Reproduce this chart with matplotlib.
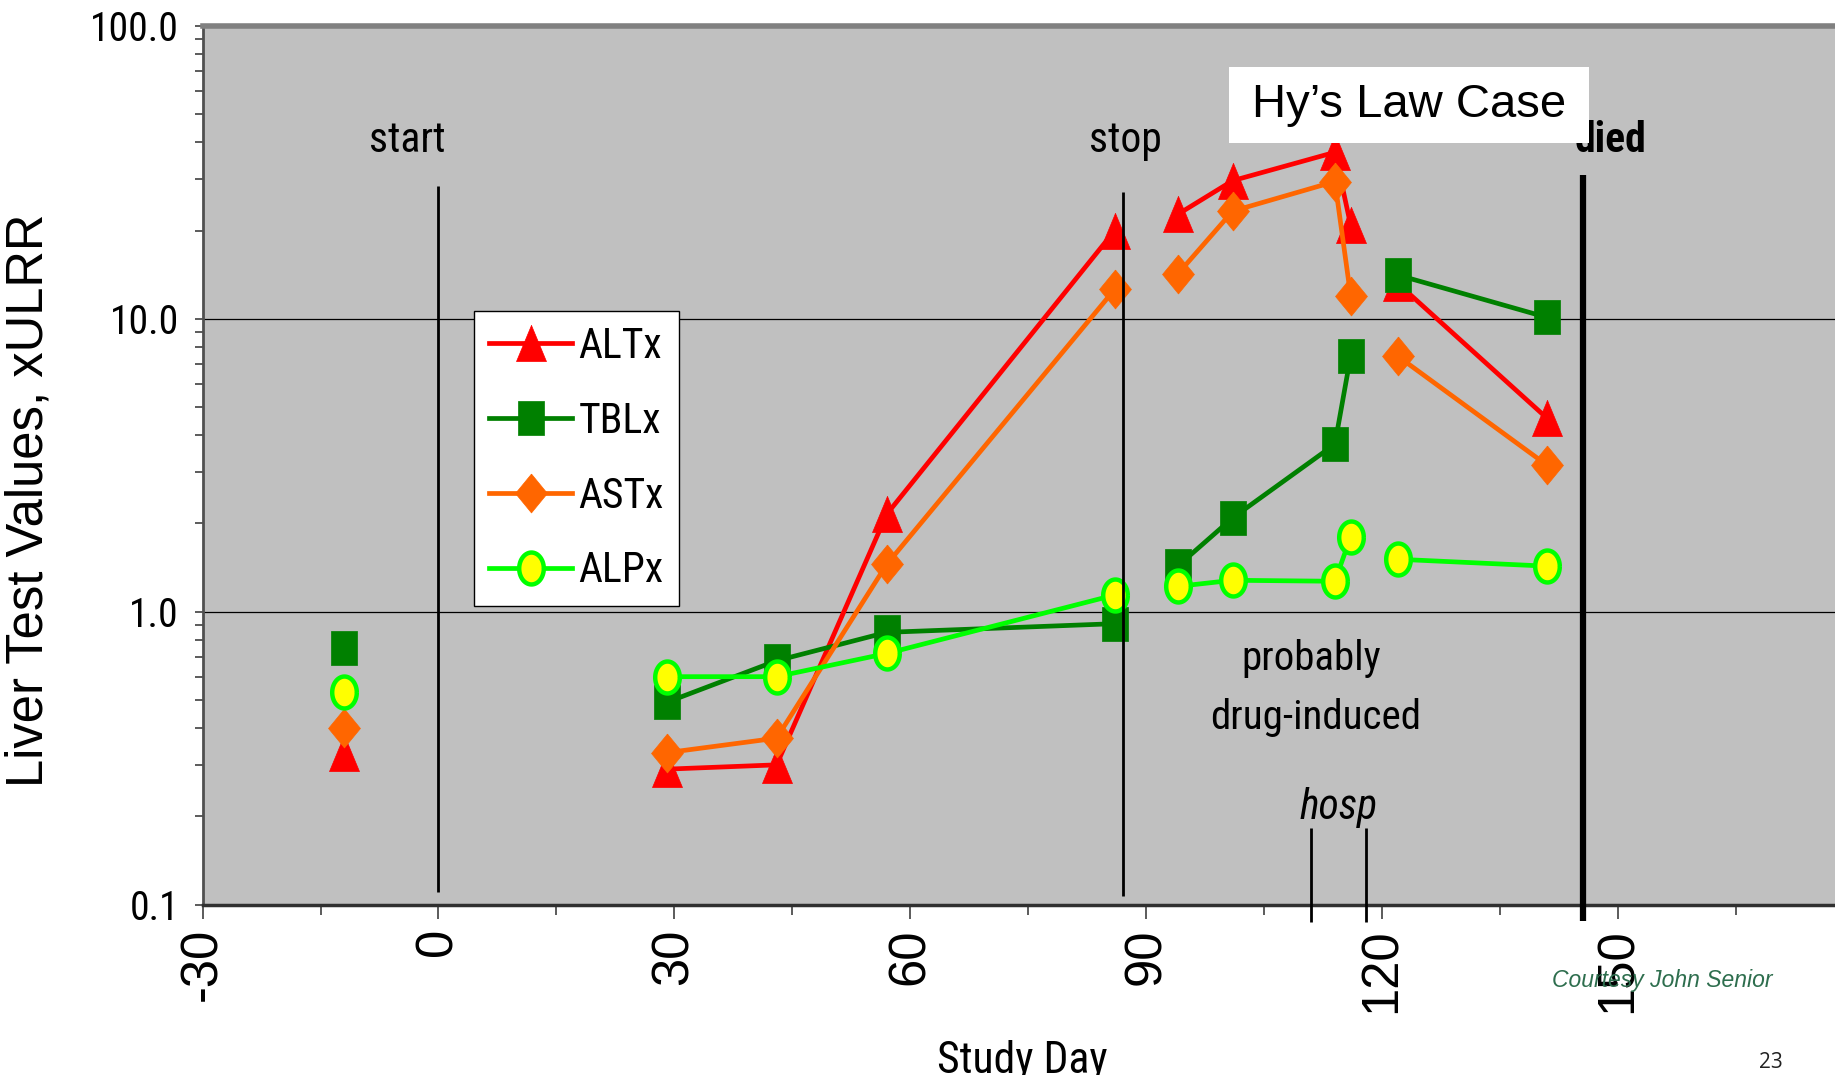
import numpy as np
import matplotlib
matplotlib.use("Agg")
import matplotlib.pyplot as plt
from matplotlib import font_manager
from matplotlib.font_manager import FontProperties
from matplotlib.patches import Rectangle
from matplotlib.ticker import FixedLocator, NullFormatter, FixedFormatter

# ---------------- data ----------------
days = [-12, 29, 43, 57, 86, 94, 101, 114, 116, 122, 141]
alt = [0.33, 0.29, 0.30, 2.15, 20.0, 22.7, 29.6, 37.0, 20.9, 13.2, 4.57]
tbl = [0.75, 0.49, 0.68, 0.85, 0.91, 1.43, 2.09, 3.73, 7.45, 14.1, 10.1]
ast = [0.40, 0.33, 0.37, 1.45, 12.6, 14.2, 23.3, 29.4, 12.0, 7.45, 3.16]
alp = [0.53, 0.60, 0.60, 0.72, 1.14, 1.22, 1.28, 1.27, 1.80, 1.51, 1.43]
segments = [(0, 1), (1, 5), (5, 9), (9, 11)]   # connected runs of visits
series_names = ["ALTx", "TBLx", "ASTx", "ALPx"]

x_ticks = [-30, 0, 30, 60, 90, 120, 150]
x_minor = [-15, 15, 45, 75, 105, 135, 165]
y_ticks = [0.1, 1.0, 10.0, 100.0]
y_ticklabels = ["0.1", "1.0", "10.0", "100.0"]

# event lines: (day, y_from, y_to, width)
events = [(0, 0.11, 28.3, 2.0), (87, 0.107, 27.0, 2.0), (145.5, 0.088, 31.0, 4.5),
          (111, 0.087, 0.182, 2.0), (118, 0.087, 0.182, 2.0)]

# ---------------- fonts ----------------
REG = "Liberation Sans"


def _w(f):
    w = f.weight
    if isinstance(w, str):
        w = font_manager.weight_dict.get(w, 400)
    return w


def _is_cond(f):
    s = f.stretch
    if isinstance(s, str):
        c = ("condensed" in s) or ("narrow" in s)
    else:
        c = s < 500
    n = f.name.lower()
    return c or "narrow" in n or "condensed" in n


_fl = font_manager.fontManager.ttflist
_conds = [f for f in _fl if _is_cond(f) and f.fname.lower().endswith((".ttf", ".otf"))]
_prio = ["Liberation Sans Narrow", "Arial Narrow", "Roboto Condensed", "Noto Sans",
         "Noto Sans Condensed", "Open Sans", "Open Sans Condensed", "DejaVu Sans",
         "DejaVu Sans Condensed"]
_fam = None
for p in _prio:
    if any(f.name == p for f in _conds):
        _fam = p
        break
if _fam is None and _conds:
    _fam = _conds[0].name
_famfonts = [f for f in _conds if f.name == _fam]


def _stretch_dist(f):
    s = f.stretch
    if isinstance(s, str):
        s = font_manager.stretch_dict.get(s, 500)
    return abs(s - 300)


def NP(size, weight=400, style="normal"):
    if not _famfonts:
        return FontProperties(family=REG, size=size * 0.86, weight=weight, style=style)
    best = sorted(_famfonts, key=lambda f: (f.style != style, abs(_w(f) - weight),
                                            _stretch_dist(f)))[0]
    return FontProperties(fname=best.fname, size=size)


NS = 30

# ---------------- markers ----------------
tri = [(0, 1), (-0.83, -1), (0.83, -1), (0, 1)]
sq = [(-0.79, -1), (0.79, -1), (0.79, 1), (-0.79, 1), (-0.79, -1)]
dia = [(0, 1), (0.82, 0), (0, -1), (-0.82, 0), (0, 1)]
t = np.linspace(0, 2 * np.pi, 60)
ell = list(zip(0.77 * np.cos(t), np.sin(t)))

styles = [
    dict(color="#FF0000", marker=tri, ms=26, mfc="#FF0000", mec="#FF0000", mew=0.5),
    dict(color="#008000", marker=sq, ms=24, mfc="#008000", mec="#008000", mew=0.5),
    dict(color="#FF6600", marker=dia, ms=28, mfc="#FF6600", mec="#FF6600", mew=0.5),
    dict(color="#00FF00", marker=ell, ms=23, mfc="#FFFF00", mec="#00FF00", mew=3.2),
]

fig = plt.figure(figsize=(18.35, 10.75), dpi=100)
ax = fig.add_axes([0.1104, 0.1585, 0.8896, 0.8175])
ax.set_facecolor("#C0C0C0")
ax.set_yscale("log")
ax.set_xlim(-30, 177.6)
ax.set_ylim(0.1, 100)

handles = []
for vals, name, st in zip([alt, tbl, ast, alp], series_names, styles):
    first = None
    for a, b in segments:
        ln, = ax.plot(days[a:b], vals[a:b], lw=3.4, zorder=3, **st)
        if first is None:
            first = ln
    first.set_label(name)
    handles.append(first)

# gridlines
for yv in [1.0, 10.0]:
    ax.axhline(yv, color="black", lw=0.9, zorder=1)

# event lines
for d, y0, y1, w in events:
    ax.plot([d, d], [y0, y1], color="black", lw=w, zorder=4, clip_on=False,
            solid_capstyle="butt")

# ticks
ax.xaxis.set_major_locator(FixedLocator(x_ticks))
ax.xaxis.set_minor_locator(FixedLocator(x_minor))
ax.set_xticklabels([str(v) for v in x_ticks], rotation=90, fontsize=36.5, family=REG)
ax.tick_params(axis="x", which="major", length=10, width=1.2, direction="out", pad=7,
               color="#404040")
ax.tick_params(axis="x", which="minor", length=7, width=1.2, direction="out",
               color="#404040")
ax.yaxis.set_major_locator(FixedLocator(y_ticks))
ax.yaxis.set_major_formatter(FixedFormatter(y_ticklabels))
minors = [m * 10.0 ** e for e in range(-1, 2) for m in range(2, 10)]
ax.yaxis.set_minor_locator(FixedLocator(minors))
ax.yaxis.set_minor_formatter(NullFormatter())
ax.tick_params(axis="y", which="both", length=6, width=1.2, direction="out", pad=11,
               color="#404040")
for lab in ax.get_yticklabels():
    lab.set_fontproperties(NP(28.5))

ax.spines["right"].set_visible(False)
ax.spines["top"].set_color("#808080")
ax.spines["top"].set_linewidth(4)
ax.spines["left"].set_color("#505050")
ax.spines["left"].set_linewidth(2)
ax.spines["bottom"].set_color("#303030")
ax.spines["bottom"].set_linewidth(2.5)

# annotations
ax.text(-4, 40.5, "start", ha="center", va="center", fontproperties=NP(NS), zorder=5)
ax.text(87.4, 40.5, "stop", ha="center", va="center", fontproperties=NP(NS), zorder=5)
ax.text(153.6, 40.5, "died", ha="right", va="center", fontproperties=NP(NS, 700), zorder=5)
ax.text(111.0, 0.69, "probably", ha="center", va="center", fontproperties=NP(29.5), zorder=5)
ax.text(111.6, 0.436, "drug-induced", ha="center", va="center", fontproperties=NP(29.5),
        zorder=5)
ax.text(114.4, 0.215, "hosp", ha="center", va="center",
        fontproperties=NP(NS, 400, "italic"), zorder=5)

ax.add_patch(Rectangle((0.629, 0.867), 0.220, 0.086, transform=ax.transAxes,
                       facecolor="white", edgecolor="none", zorder=6))
ax.text(0.739, 0.910, "Hy\u2019s Law Case", transform=ax.transAxes, ha="center",
        va="center", family=REG, fontsize=34, zorder=7)

leg = ax.legend(handles=handles, loc="upper left", bbox_to_anchor=(474 / 1835, 1 - 311 / 1075),
                bbox_transform=fig.transFigure, borderaxespad=0, frameon=True, fancybox=False,
                edgecolor="black", framealpha=1, prop=NP(NS),
                handlelength=2.0, handletextpad=0.15, labelspacing=0.81, borderpad=0.36,
                numpoints=1)
leg.get_frame().set_linewidth(1.0)
leg.set_zorder(8)

fig.text(29 / 1835, 1 - 500 / 1075, "Liver Test Values, xULRR", rotation=90, ha="center",
         va="center", family=REG, fontsize=36.5)
fig.text(1022 / 1835, 0.002, "Study Day", ha="center", va="baseline",
         fontproperties=NP(NS * 1.05))
fig.text(1662 / 1835, 1 - 981 / 1075, "Courtesy John Senior", ha="center", va="center",
         family=REG, style="italic", fontsize=16.5, color="#2E6E4E")
fig.text(1771 / 1835, 1 - 1063 / 1075, "23", ha="center", va="center", family="Open Sans",
         fontsize=15, color="#222222")

fig.savefig("out.png", dpi=100)
